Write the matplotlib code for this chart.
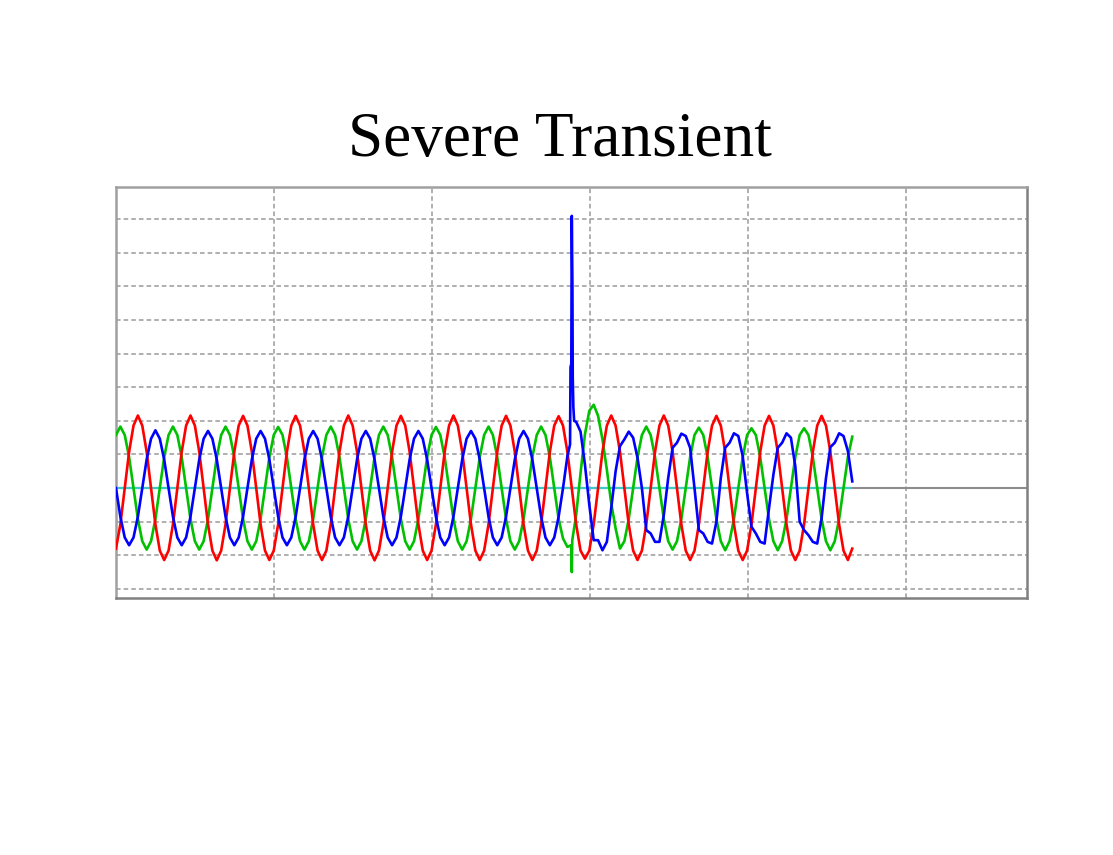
import numpy as np
import matplotlib
matplotlib.use('Agg')
import matplotlib.pyplot as plt

# Scope record: one sample every 1.387 ms (12 samples per 60 Hz cycle), values in grid divisions
SAMPLE_MS = 1.387

red_phase = [
    -1.80, -1.08, 0.00, 1.08, 1.86, 2.16, 1.86, 1.08, 0.00, -1.08, -1.86, -2.14,
    -1.86, -1.08, 0.00, 1.08, 1.86, 2.16, 1.86, 1.08, 0.00, -1.08, -1.86, -2.15,
    -1.86, -1.08, 0.00, 1.08, 1.86, 2.15, 1.86, 1.08, 0.00, -1.08, -1.86, -2.14,
    -1.86, -1.08, 0.00, 1.08, 1.86, 2.15, 1.86, 1.08, 0.00, -1.08, -1.86, -2.14,
    -1.86, -1.08, 0.00, 1.08, 1.86, 2.16, 1.86, 1.08, 0.00, -1.08, -1.86, -2.15,
    -1.86, -1.08, 0.00, 1.08, 1.86, 2.15, 1.86, 1.08, 0.00, -1.08, -1.86, -2.14,
    -1.86, -1.08, 0.00, 1.08, 1.86, 2.16, 1.86, 1.08, 0.00, -1.08, -1.86, -2.14,
    -1.86, -1.08, 0.00, 1.08, 1.86, 2.15, 1.86, 1.08, 0.00, -1.08, -1.86, -2.14,
    -1.86, -1.08, 0.00, 1.08, 1.86, 2.14, 1.86, 1.08, 0.00, -1.08, -1.86, -2.10,
    -1.86, -1.08, 0.00, 1.08, 1.86, 2.16, 1.86, 1.08, 0.00, -1.08, -1.86, -2.14,
    -1.86, -1.08, 0.00, 1.08, 1.86, 2.16, 1.86, 1.08, 0.00, -1.08, -1.86, -2.14,
    -1.86, -1.08, 0.00, 1.08, 1.86, 2.15, 1.86, 1.08, 0.00, -1.08, -1.86, -2.14,
    -1.86, -1.08, 0.00, 1.08, 1.86, 2.15, 1.86, 1.08, 0.00, -1.08, -1.86, -2.14,
    -1.86, -1.08, 0.00, 1.08, 1.86, 2.15, 1.86, 1.08, 0.00, -1.08, -1.86, -2.14,
    -1.80,
]

green_phase = [
    1.58, 1.83, 1.58, 0.92, 0.00, -0.92, -1.58, -1.83, -1.58, -0.92, 0.00, 0.92,
    1.58, 1.83, 1.58, 0.92, 0.00, -0.92, -1.58, -1.83, -1.58, -0.92, 0.00, 0.92,
    1.58, 1.83, 1.58, 0.92, 0.00, -0.92, -1.58, -1.83, -1.58, -0.92, 0.00, 0.92,
    1.58, 1.82, 1.58, 0.92, 0.00, -0.92, -1.58, -1.83, -1.58, -0.92, 0.00, 0.92,
    1.58, 1.83, 1.58, 0.92, 0.00, -0.92, -1.58, -1.83, -1.58, -0.92, 0.00, 0.92,
    1.58, 1.83, 1.58, 0.92, 0.00, -0.92, -1.58, -1.83, -1.58, -0.92, 0.00, 0.92,
    1.58, 1.82, 1.58, 0.92, 0.00, -0.92, -1.58, -1.83, -1.58, -0.92, 0.00, 0.92,
    1.58, 1.83, 1.58, 0.92, 0.00, -0.92, -1.58, -1.83, -1.58, -0.92, 0.00, 0.92,
    1.58, 1.83, 1.58, 0.92, 0.00, -0.92, -1.50, -1.75, -2.50, -0.80, 0.45, 1.60,
    2.30, 2.48, 2.15, 1.45, 0.55, -0.45, -1.20, -1.80, -1.58, -0.92, 0.00, 0.92,
    1.58, 1.83, 1.58, 0.92, 0.00, -0.92, -1.58, -1.83, -1.58, -0.92, 0.00, 0.92,
    1.58, 1.80, 1.58, 0.92, 0.00, -0.92, -1.58, -1.85, -1.58, -0.92, 0.00, 0.92,
    1.58, 1.78, 1.58, 0.92, 0.00, -0.92, -1.58, -1.85, -1.58, -0.92, 0.00, 0.92,
    1.58, 1.78, 1.58, 0.92, 0.00, -0.92, -1.58, -1.85, -1.58, -0.92, 0.00, 0.92,
    1.53,
]

blue_phase = [
    0.00, -0.85, -1.47, -1.70, -1.47, -0.85, 0.00, 0.85, 1.47, 1.72, 1.47, 0.85,
    0.00, -0.85, -1.47, -1.70, -1.47, -0.85, 0.00, 0.85, 1.47, 1.70, 1.47, 0.85,
    0.00, -0.85, -1.47, -1.70, -1.47, -0.85, 0.00, 0.85, 1.47, 1.70, 1.47, 0.85,
    0.00, -0.85, -1.47, -1.70, -1.47, -0.85, 0.00, 0.85, 1.47, 1.70, 1.47, 0.85,
    0.00, -0.85, -1.47, -1.70, -1.47, -0.85, 0.00, 0.85, 1.47, 1.70, 1.47, 0.85,
    0.00, -0.85, -1.47, -1.70, -1.47, -0.85, 0.00, 0.85, 1.47, 1.70, 1.47, 0.85,
    0.00, -0.85, -1.47, -1.70, -1.47, -0.85, 0.00, 0.85, 1.47, 1.70, 1.47, 0.85,
    0.00, -0.85, -1.47, -1.70, -1.47, -0.85, 0.00, 0.85, 1.47, 1.70, 1.47, 0.85,
    0.00, -0.85, -1.47, -1.70, -1.47, -0.85, 0.00, 0.95, 8.10, 1.97, 1.68, 0.70,
    -0.50, -1.55, -1.55, -1.85, -1.60, -0.60, 0.50, 1.25, 1.45, 1.68, 1.50, 0.90,
    0.00, -1.25, -1.35, -1.60, -1.60, -0.80, 0.30, 1.20, 1.35, 1.62, 1.55, 1.20,
    0.00, -1.25, -1.35, -1.60, -1.65, -1.00, 0.30, 1.20, 1.35, 1.63, 1.55, 0.95,
    -0.15, -1.15, -1.35, -1.60, -1.65, -0.60, 0.40, 1.20, 1.35, 1.63, 1.50, 0.65,
    -1.00, -1.25, -1.40, -1.60, -1.65, -0.90, 0.30, 1.22, 1.35, 1.63, 1.55, 1.10,
    0.20,
]

# extra fast samples captured around the impulse (ms, divisions)
blue_spike_t = [143.70, 143.85, 144.10, 144.45, 144.55, 144.75, 145.00]
blue_spike_v = [1.30, 3.60, 3.70, 6.00, 3.30, 2.40, 2.00]
green_spike_t = [144.10, 144.40]
green_spike_v = [-1.70, -1.55]

t_ms = np.arange(len(red_phase)) * SAMPLE_MS


def merge(t, v, extra_t, extra_v):
    tt = np.concatenate([t, extra_t])
    vv = np.concatenate([v, extra_v])
    order = np.argsort(tt, kind='stable')
    return tt[order], vv[order]


blue_t, blue_v = merge(t_ms, np.array(blue_phase), blue_spike_t, blue_spike_v)
green_t, green_v = merge(t_ms, np.array(green_phase), green_spike_t, green_spike_v)

fig = plt.figure(figsize=(11.13, 8.55), dpi=100)
ax = fig.add_axes([0.1042, 0.3006, 0.8185, 0.4807])

# grid (50 ms per horizontal division, 1 unit per vertical division)
for x in [50, 100, 150, 200, 250]:
    ax.axvline(x, color='#9a9a9a', lw=1.1, ls=(0, (3, 2)), zorder=1)
for y in [-3, -2, -1, 1, 2, 3, 4, 5, 6, 7, 8]:
    ax.axhline(y, color='#9a9a9a', lw=1.1, ls=(0, (3, 2)), zorder=1)

ax.axhline(0, color='#8c8c8c', lw=1.5, zorder=1)
ax.hlines(0, 0, t_ms[-1], color='#40c8c8', lw=1.6, zorder=2)

ax.plot(green_t, green_v, color='#00c000', lw=1.9, zorder=3)
ax.plot(t_ms, red_phase, color='#ff0000', lw=1.9, zorder=4)
ax.plot(blue_t, blue_v, color='#0000ff', lw=1.9, zorder=5)

ax.set_xlim(0, 288.3)
ax.set_ylim(-3.27, 8.96)
ax.set_xticks([])
ax.set_yticks([])
for side in ['top', 'right', 'bottom', 'left']:
    ax.spines[side].set_color('#a0a0a0')
    ax.spines[side].set_linewidth(1.8)
ax.spines['right'].set_color('#808080')
ax.spines['bottom'].set_color('#808080')

fig.text(0.503, 0.818, 'Severe Transient', ha='center', va='baseline',
         fontsize=45.5, family=['Liberation Serif', 'DejaVu Serif'])

fig.savefig('out.png', dpi=100)
